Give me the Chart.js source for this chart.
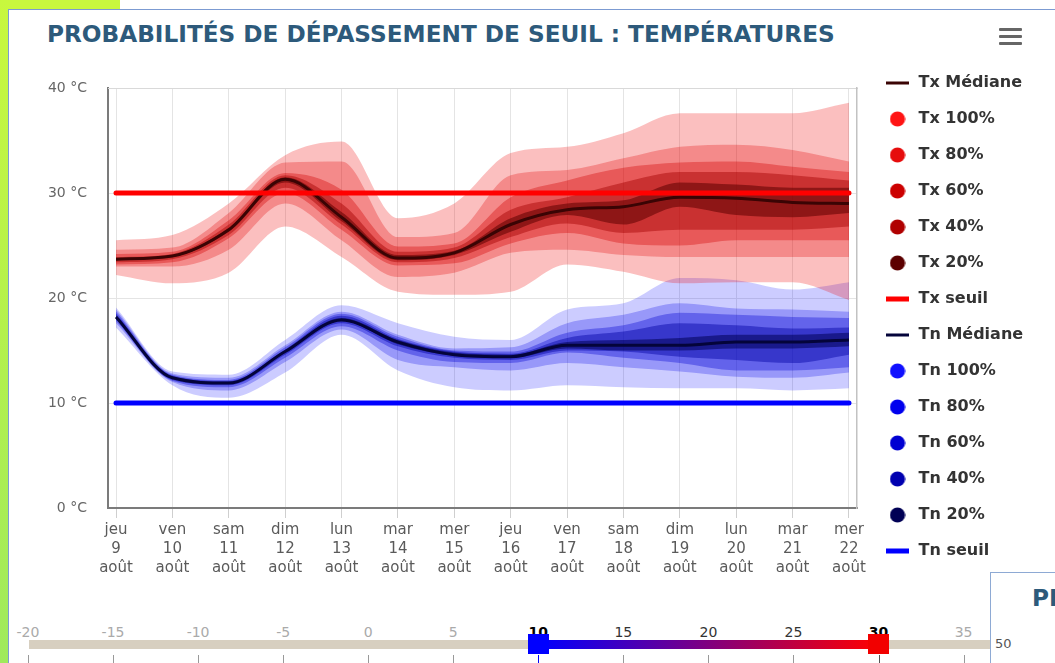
<!DOCTYPE html>
<html lang="fr">
<head>
<meta charset="utf-8">
<title>Probabilités de dépassement de seuil : températures</title>
<script src="https://cdn.jsdelivr.net/npm/chart.js@4.4.1/dist/chart.umd.min.js"></script>
<style>
    html, body { margin: 0; padding: 0; }
    body {
        width: 1055px; height: 663px; position: relative; overflow: hidden;
        background: #fff; font-family: 'DejaVu Sans', sans-serif;
    }
    .vert-haut { position: absolute; left: 0; top: 0; width: 120px; height: 9px; background: #c8f83e; }
    .vert-gauche { position: absolute; left: 0; top: 0; width: 8px; height: 663px; background: linear-gradient(#c8f83e, #9fea5c); }
    .carte {
        position: absolute; left: 8px; top: 9px; width: 1060px; height: 670px;
        border-left: 1px solid #7c9bd2; border-top: 1px solid #7c9bd2; background: #fff;
    }
    .titre {
        position: absolute; left: 47px; top: 22px; white-space: nowrap;
        font: bold 23.2px/1 'DejaVu Sans', sans-serif; color: #2d5a7b;
    }
    .menu { position: absolute; left: 999px; top: 28px; width: 23px; }
    .menu span { display: block; height: 3px; margin-bottom: 4px; background: #666; border-radius: 1px; }
    #zone { position: absolute; left: 0; top: 0; width: 1055px; height: 590px; }

    /* curseur des seuils */
    .piste { position: absolute; left: 29px; top: 640px; width: 980px; height: 9px; background: #d7cfc0; }
    .plage { position: absolute; top: 640px; height: 9px; background: linear-gradient(to right, #0000ff, #ff0000); }
    .poignee { position: absolute; top: 634px; width: 21px; height: 20px; }
    .grad { position: absolute; top: 625px; width: 40px; margin-left: -20px; text-align: center; font: 14px/1 'DejaVu Sans', sans-serif; color: #aaa; }
    .grad.dedans { color: #333; }
    .grad.borne { color: #000; font-weight: bold; }
    .trait { position: absolute; top: 655px; width: 1px; height: 9px; background: #999; }

    .panneau {
        position: absolute; left: 990px; top: 572px; width: 100px; height: 120px; z-index: 3;
        border-left: 1px solid #8eaad4; border-top: 1px solid #8eaad4; background: #fff;
    }
    .panneau .titre { left: 41px; top: 13px; }
    .panneau .val { position: absolute; left: 4px; top: 64px; font: 13px/1 'DejaVu Sans', sans-serif; color: #555; }
</style>
</head>
<body>
<div class="vert-haut"></div>
<div class="vert-gauche"></div>
<div class="carte"></div>
<div class="titre">PROBABILITÉS DE DÉPASSEMENT DE SEUIL : TEMPÉRATURES</div>
<div class="menu"><span></span><span></span><span></span></div>
<div id="zone"><canvas id="graphe"></canvas></div>
<div id="curseur"></div>
<div class="panneau">
    <div class="titre">PROBABILITÉS DE DÉPASSEMENT</div>
    <div class="val">50</div>
</div>

<script>
// Échéances
const jours = ['jeu', 'ven', 'sam', 'dim', 'lun', 'mar', 'mer', 'jeu', 'ven', 'sam', 'dim', 'lun', 'mar', 'mer'];
const dates = [9, 10, 11, 12, 13, 14, 15, 16, 17, 18, 19, 20, 21, 22];
const mois = 'août';
const graduationsY = [0, 10, 20, 30, 40];

// Seuils
const txSeuil = 30;
const tnSeuil = 10;

// Températures maximales (°C)
const txMediane = [23.7, 24.0, 26.5, 31.3, 27.7, 23.8, 24.3, 27.0, 28.4, 28.7, 29.6, 29.5, 29.1, 29.0];
const tx100Haut = [25.5, 26.0, 29.0, 33.6, 34.9, 27.6, 29.0, 33.8, 34.4, 35.7, 37.6, 37.6, 37.6, 38.6];
const tx100Bas  = [22.2, 21.4, 22.4, 26.8, 23.9, 20.6, 20.3, 20.6, 23.2, 22.5, 21.4, 21.5, 21.5, 19.8];
const tx80Haut  = [24.6, 24.8, 28.1, 32.9, 33.0, 25.8, 26.2, 31.7, 32.2, 33.3, 34.4, 34.6, 34.1, 33.0];
const tx80Bas   = [23.0, 23.0, 24.6, 29.0, 25.5, 22.0, 22.4, 24.3, 24.6, 24.1, 23.9, 23.9, 23.9, 23.9];
const tx60Haut  = [24.2, 24.4, 27.4, 31.9, 30.3, 24.9, 25.2, 29.6, 31.2, 32.4, 32.9, 33.0, 32.5, 32.0];
const tx60Bas   = [23.2, 23.4, 25.7, 30.0, 26.5, 23.1, 23.3, 25.2, 26.2, 25.2, 25.0, 25.5, 25.5, 25.5];
const tx40Haut  = [23.9, 24.2, 27.0, 31.7, 29.0, 24.4, 24.8, 28.4, 29.6, 31.0, 32.0, 32.0, 31.7, 31.2];
const tx40Bas   = [23.4, 23.7, 26.0, 30.5, 27.0, 23.4, 23.8, 25.8, 27.1, 26.2, 26.5, 26.5, 26.5, 26.8];
const tx20Haut  = [23.8, 24.1, 26.7, 31.5, 28.2, 24.1, 24.5, 27.6, 29.0, 29.3, 31.0, 30.8, 30.5, 30.5];
const tx20Bas   = [23.6, 23.9, 26.3, 31.0, 27.3, 23.6, 24.1, 26.3, 27.9, 27.0, 28.7, 27.9, 27.7, 28.1];

// Températures minimales (°C)
const tnMediane = [18.2, 12.4, 11.9, 14.9, 17.9, 15.8, 14.6, 14.4, 15.5, 15.5, 15.5, 15.8, 15.8, 16.0];
const tn100Haut = [19.1, 13.0, 12.7, 16.0, 19.3, 17.6, 16.3, 16.0, 18.9, 19.5, 21.9, 21.7, 20.8, 21.5];
const tn100Bas  = [17.2, 11.7, 10.5, 12.9, 16.5, 13.1, 11.5, 11.2, 11.7, 11.5, 11.4, 11.4, 11.2, 11.4];
const tn80Haut  = [18.9, 12.8, 12.4, 15.5, 18.7, 16.5, 15.2, 15.3, 17.6, 18.4, 19.5, 19.0, 18.9, 18.7];
const tn80Bas   = [17.6, 12.0, 11.2, 13.9, 17.0, 14.1, 13.4, 13.1, 13.8, 13.4, 13.0, 12.5, 12.4, 12.9];
const tn60Haut  = [18.7, 12.7, 12.2, 15.3, 18.5, 16.3, 15.0, 14.9, 16.7, 17.4, 18.6, 18.4, 18.2, 18.1];
const tn60Bas   = [17.8, 12.1, 11.5, 14.3, 17.3, 15.0, 13.9, 13.8, 14.8, 14.3, 13.8, 13.1, 13.1, 13.4];
const tn40Haut  = [18.5, 12.6, 12.1, 15.1, 18.3, 16.1, 14.9, 14.7, 16.2, 16.8, 17.6, 17.4, 17.1, 17.2];
const tn40Bas   = [18.0, 12.2, 11.7, 14.6, 17.6, 15.4, 14.3, 14.1, 15.0, 14.9, 14.4, 14.1, 13.8, 14.6];
const tn20Haut  = [18.3, 12.5, 12.0, 15.0, 18.1, 16.0, 14.8, 14.6, 15.8, 16.0, 16.2, 16.5, 16.5, 16.7];
const tn20Bas   = [18.1, 12.3, 11.8, 14.8, 17.8, 15.6, 14.5, 14.3, 15.2, 15.0, 15.0, 15.2, 15.2, 15.4];

// Graduations du curseur de seuils
const graduationsCurseur = [-20, -15, -10, -5, 0, 5, 10, 15, 20, 25, 30, 35];

const couleurs = {
    txMediane: '#3a0404',
    tnMediane: '#04043a',
    txSeuil: '#ff0000',
    tnSeuil: '#0000ff',
    grille: '#e4e4e4',
    axe: '#7b7b7b',
    texte: '#5a5a5a',
    legende: '#333333'
};

// Marqueurs de légende dessinés à la main (rond ou trait)
function marqueurRond(couleur) {
    const c = document.createElement('canvas');
    c.width = 16;
    c.height = 16;
    const g = c.getContext('2d');
    g.fillStyle = couleur;
    g.beginPath();
    g.arc(8, 8, 7.6, 0, Math.PI * 2);
    g.fill();
    return c;
}

function marqueurTrait(couleur, epaisseur) {
    const c = document.createElement('canvas');
    c.width = 23;
    c.height = 8;
    const g = c.getContext('2d');
    g.fillStyle = couleur;
    g.fillRect(0, (8 - epaisseur) / 2, 23, epaisseur);
    return c;
}

function points(valeurs) {
    return valeurs.map((y, i) => ({ x: i, y }));
}

function mediane(label, valeurs, couleur) {
    return {
        label,
        data: points(valeurs),
        borderColor: couleur,
        backgroundColor: couleur,
        borderWidth: 3,
        fill: false,
        order: 1,
        pointRadius: 0,
        pointHoverRadius: 0,
        cubicInterpolationMode: 'monotone',
        legende: marqueurTrait(couleur, 3),
        infobulle: true
    };
}

function seuil(label, valeur, couleur) {
    return {
        label,
        data: [{ x: 0, y: valeur }, { x: dates.length - 1, y: valeur }],
        borderColor: couleur,
        backgroundColor: couleur,
        borderWidth: 5,
        borderCapStyle: 'round',
        fill: false,
        order: 0,
        pointRadius: 0,
        pointHoverRadius: 0,
        legende: marqueurTrait(couleur, 5)
    };
}

// Une bande = courbe haute remplie jusqu'à la courbe basse
function bande(label, haut, bas, remplissage, couleur, ordre) {
    const commun = {
        borderWidth: 0,
        borderColor: 'rgba(0, 0, 0, 0)',
        pointRadius: 0,
        pointHoverRadius: 0,
        cubicInterpolationMode: 'monotone',
        order: ordre
    };
    return [
        { ...commun, label, data: points(haut), backgroundColor: remplissage, fill: '+1', legende: marqueurRond(couleur), paire: 1 },
        { ...commun, label: label + ' bas', data: points(bas), fill: false }
    ];
}

const jeux = [
    mediane('Tx Médiane', txMediane, couleurs.txMediane),
    ...bande('Tx 100%', tx100Haut, tx100Bas, 'rgba(240, 0, 0, 0.25)', '#ff1414', 6),
    ...bande('Tx 80%', tx80Haut, tx80Bas, 'rgba(225, 0, 0, 0.28)', '#e60c0c', 5),
    ...bande('Tx 60%', tx60Haut, tx60Bas, 'rgba(210, 0, 0, 0.36)', '#cc0000', 4),
    ...bande('Tx 40%', tx40Haut, tx40Bas, 'rgba(165, 0, 0, 0.45)', '#b00000', 3),
    ...bande('Tx 20%', tx20Haut, tx20Bas, 'rgba(95, 0, 0, 0.55)', '#5c0000', 2),
    seuil('Tx seuil', txSeuil, couleurs.txSeuil),
    mediane('Tn Médiane', tnMediane, couleurs.tnMediane),
    ...bande('Tn 100%', tn100Haut, tn100Bas, 'rgba(0, 0, 255, 0.2)', '#1010ff', 6),
    ...bande('Tn 80%', tn80Haut, tn80Bas, 'rgba(0, 0, 230, 0.26)', '#0000ee', 5),
    ...bande('Tn 60%', tn60Haut, tn60Bas, 'rgba(0, 0, 210, 0.35)', '#0000d2', 4),
    ...bande('Tn 40%', tn40Haut, tn40Bas, 'rgba(0, 0, 165, 0.45)', '#0000b0', 3),
    ...bande('Tn 20%', tn20Haut, tn20Bas, 'rgba(0, 0, 85, 0.55)', '#000055', 2),
    seuil('Tn seuil', tnSeuil, couleurs.tnSeuil)
];

// Largeur fixe de la légende pour caler le bord droit du tracé
const largeurLegende = {
    id: 'largeurLegende',
    beforeInit(chart) {
        const fitOrigine = chart.legend.fit;
        chart.legend.fit = function () {
            fitOrigine.call(this);
            this.width = 190.5;
        };
    }
};

const policeAxes = { family: "'DejaVu Sans', sans-serif", size: 15, lineHeight: 1.25 };

new Chart(document.getElementById('graphe'), {
    type: 'line',
    data: { datasets: jeux },
    plugins: [largeurLegende],
    options: {
        responsive: true,
        maintainAspectRatio: false,
        animation: false,
        layout: { padding: { top: 55, left: 0, right: 0, bottom: 0 } },
        interaction: { mode: 'index', intersect: false },
        plugins: {
            title: { display: false },
            tooltip: { filter: (item) => item.dataset.infobulle },
            legend: {
                position: 'right',
                align: 'start',
                onClick: (e, item, legend) => {
                    const chart = legend.chart;
                    const i = item.datasetIndex;
                    const visible = chart.isDatasetVisible(i);
                    chart.setDatasetVisibility(i, !visible);
                    if (chart.data.datasets[i].paire) chart.setDatasetVisibility(i + 1, !visible);
                    chart.update();
                },
                labels: {
                    usePointStyle: true,
                    pointStyleWidth: 26,
                    padding: 20,
                    color: couleurs.legende,
                    font: { family: "'DejaVu Sans', sans-serif", size: 16, weight: 'bold' },
                    generateLabels: (chart) => chart.data.datasets
                        .map((ds, i) => ({ ds, i }))
                        .filter(({ ds }) => ds.legende)
                        .map(({ ds, i }) => ({
                            text: ds.label,
                            datasetIndex: i,
                            hidden: !chart.isDatasetVisible(i),
                            pointStyle: ds.legende,
                            fillStyle: 'rgba(0, 0, 0, 0)',
                            strokeStyle: 'rgba(0, 0, 0, 0)',
                            lineWidth: 0,
                            fontColor: couleurs.legende
                        }))
                }
            }
        },
        scales: {
            x: {
                type: 'linear',
                min: -0.142,
                max: dates.length - 1 + 0.142,
                afterBuildTicks: (axe) => { axe.ticks = dates.map((d, i) => ({ value: i })); },
                afterFit: (axe) => { axe.height = 82; },
                ticks: {
                    autoSkip: false,
                    maxRotation: 0,
                    padding: 3,
                    color: couleurs.texte,
                    font: policeAxes,
                    callback: (v) => [jours[v], String(dates[v]), mois]
                },
                grid: { color: couleurs.grille, tickColor: '#cfcfcf', tickLength: 10 },
                border: { color: couleurs.axe, width: 2 }
            },
            y: {
                min: 0,
                max: 40,
                afterBuildTicks: (axe) => { axe.ticks = graduationsY.map((v) => ({ value: v })); },
                afterFit: (axe) => { axe.width = 108; },
                ticks: {
                    padding: 21,
                    color: '#666',
                    font: { family: "'DejaVu Sans', sans-serif", size: 14 },
                    callback: (v) => v + ' °C'
                },
                grid: { color: couleurs.grille, drawTicks: false },
                border: { color: couleurs.axe, width: 2 }
            },
            // axes vides : ils réservent la marge haute et le bord droit du tracé
            haut: {
                type: 'linear',
                position: 'top',
                afterFit: (axe) => { axe.height = 33; },
                ticks: { display: false },
                grid: { display: false },
                border: { color: '#d9d9d9', width: 1 }
            },
            droite: {
                type: 'linear',
                position: 'right',
                afterFit: (axe) => { axe.width = 7.5; },
                ticks: { display: false },
                grid: { display: false },
                border: { color: '#c2c2c2', width: 1.5 }
            }
        }
    }
});

// Curseur de seuils (Tn à gauche, Tx à droite)
function posCurseur(v) {
    return 28 + 17.01 * (v + 20);
}

const curseur = document.getElementById('curseur');
let html = '<div class="piste"></div>';
html += `<div class="plage" style="left:${posCurseur(tnSeuil)}px;width:${posCurseur(txSeuil) - posCurseur(tnSeuil)}px"></div>`;
graduationsCurseur.forEach((v) => {
    let classe = 'grad';
    if (v === tnSeuil || v === txSeuil) classe += ' borne';
    else if (v > tnSeuil && v < txSeuil) classe += ' dedans';
    html += `<div class="${classe}" style="left:${posCurseur(v)}px">${v}</div>`;
    const couleurTrait = v === tnSeuil ? '#0000ff' : (v === txSeuil ? '#555' : '#999');
    html += `<div class="trait" style="left:${Math.round(posCurseur(v))}px;background:${couleurTrait}"></div>`;
});
html += `<div class="poignee" style="left:${posCurseur(tnSeuil) - 10.5}px;background:#0000ff"></div>`;
html += `<div class="poignee" style="left:${posCurseur(txSeuil) - 10.5}px;background:#f20000"></div>`;
curseur.innerHTML = html;
</script>
</body>
</html>
